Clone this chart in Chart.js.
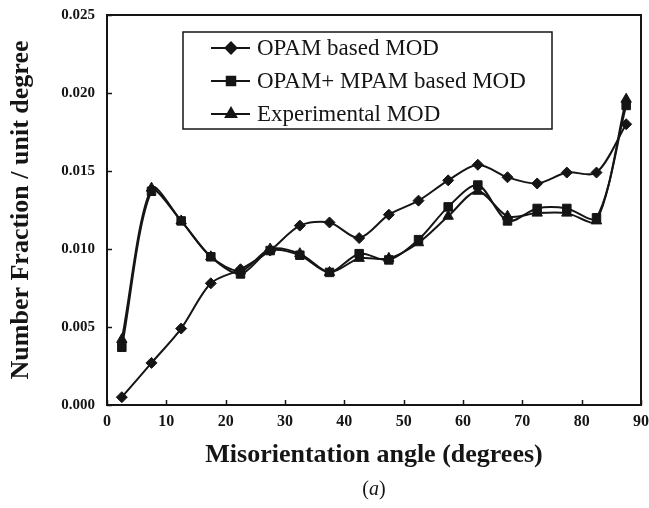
<!DOCTYPE html>
<html>
<head>
<meta charset="utf-8">
<script src="https://cdn.jsdelivr.net/npm/chart.js@4.4.0/dist/chart.umd.min.js"></script>
<style>
  html, body { margin: 0; padding: 0; background: #fff; }
  #wrap { width: 649px; height: 508px; }
</style>
</head>
<body>
<div id="wrap"><canvas id="mod-chart"></canvas></div>
<script>
// misorientation angle bins (degrees)
const angles = [2.5, 7.5, 12.5, 17.5, 22.5, 27.5, 32.5, 37.5, 42.5, 47.5, 52.5, 57.5, 62.5, 67.5, 72.5, 77.5, 82.5, 87.5];
const opam = [0.0005, 0.0027, 0.0049, 0.0078, 0.0087, 0.0099, 0.0115, 0.0117, 0.0107, 0.0122, 0.0131, 0.0144, 0.0154, 0.0146, 0.0142, 0.0149, 0.0149, 0.0180];
const opamMpam = [0.0037, 0.0137, 0.0118, 0.0095, 0.0084, 0.0099, 0.0096, 0.0085, 0.0097, 0.0093, 0.0106, 0.0127, 0.0141, 0.0118, 0.0126, 0.0126, 0.0120, 0.0192];
const experimental = [0.0042, 0.0139, 0.0118, 0.0095, 0.0086, 0.0100, 0.0097, 0.0085, 0.0094, 0.0094, 0.0104, 0.0121, 0.0137, 0.0121, 0.0123, 0.0123, 0.0118, 0.0196];
const seriesNames = ["OPAM based MOD", "OPAM+ MPAM based MOD", "Experimental MOD"];

const ink = "#151515";
const serif = "'Liberation Serif', 'DejaVu Serif', serif";

function toPoints(vals) {
   return vals.map((v, i) => ({x: angles[i], y: v}));
}

// frame, inward ticks, legend box and caption
const extras = {
   id: 'extras',
   afterDraw(chart) {
      const ctx = chart.ctx;
      const a = chart.chartArea;
      const xs = chart.scales.x, ys = chart.scales.y;
      ctx.save();
      ctx.strokeStyle = ink;
      ctx.lineWidth = 2;
      ctx.strokeRect(a.left, a.top, a.right - a.left, a.bottom - a.top);
      ctx.lineWidth = 1.5;
      xs.ticks.forEach(t => {
         const px = Math.round(xs.getPixelForValue(t.value)) + 0.5;
         ctx.beginPath(); ctx.moveTo(px, a.bottom); ctx.lineTo(px, a.bottom - 5); ctx.stroke();
      });
      ys.ticks.forEach(t => {
         const py = Math.round(ys.getPixelForValue(t.value)) + 0.5;
         ctx.beginPath(); ctx.moveTo(a.left, py); ctx.lineTo(a.left + 5, py); ctx.stroke();
      });

      // legend
      const bx = 183, by = 32, bw = 369, bh = 97;
      ctx.fillStyle = '#fff';
      ctx.fillRect(bx, by, bw, bh);
      ctx.lineWidth = 1.5;
      ctx.strokeRect(bx, by, bw, bh);
      const rows = [48, 81, 114];
      chart.data.datasets.forEach((ds, i) => {
         const y = rows[i];
         ctx.strokeStyle = ink;
         ctx.lineWidth = 2;
         ctx.beginPath(); ctx.moveTo(211, y); ctx.lineTo(250, y); ctx.stroke();
         ctx.fillStyle = ink;
         Chart.helpers.drawPoint(ctx, {pointStyle: ds.pointStyle, radius: ds.pointRadius, rotation: 0, borderWidth: 1}, 231, y);
         ctx.font = "23px " + serif;
         ctx.textBaseline = 'middle';
         ctx.textAlign = 'left';
         ctx.fillText(ds.label, 257, y + 1);
      });

      // caption (a)
      ctx.fillStyle = ink;
      ctx.textBaseline = 'middle';
      ctx.textAlign = 'left';
      ctx.font = "20px " + serif;
      const w1 = ctx.measureText('(').width;
      ctx.font = "italic 20px " + serif;
      const w2 = ctx.measureText('a').width;
      ctx.font = "20px " + serif;
      const w3 = ctx.measureText(')').width;
      let cx = 374 - (w1 + w2 + w3) / 2;
      ctx.fillText('(', cx, 490); cx += w1;
      ctx.font = "italic 20px " + serif;
      ctx.fillText('a', cx, 490); cx += w2;
      ctx.font = "20px " + serif;
      ctx.fillText(')', cx, 490);
      ctx.restore();
   }
};

function makeSet(label, vals, style, r) {
   return {
      label: label,
      data: toPoints(vals),
      borderColor: ink,
      backgroundColor: ink,
      borderWidth: 2,
      pointStyle: style,
      pointRadius: r,
      pointBorderWidth: 1,
      pointBorderColor: ink,
      pointBackgroundColor: ink,
      tension: 0.3
   };
}

new Chart(document.getElementById("mod-chart"), {
   type: 'line',
   data: {
      datasets: [
         makeSet(seriesNames[0], opam, 'rectRot', 5.5),
         makeSet(seriesNames[1], opamMpam, 'rect', 6),
         makeSet(seriesNames[2], experimental, 'triangle', 6)
      ]
   },
   options: {
      responsive: true,
      maintainAspectRatio: false,
      animation: false,
      layout: { padding: { left: 0, right: 8, top: 15, bottom: 0 } },
      plugins: {
         legend: { display: false },
         tooltip: { enabled: false }
      },
      scales: {
         x: {
            type: 'linear',
            min: 0, max: 90,
            ticks: { stepSize: 10, color: ink, padding: 7, maxRotation: 0,
               font: { family: serif, size: 16, weight: 'bold' } },
            grid: { display: false, drawTicks: false },
            border: { display: false },
            title: { display: true, text: 'Misorientation angle (degrees)', color: ink,
               font: { family: serif, size: 26, weight: 'bold' }, padding: { top: 0, bottom: 37 } },
            afterFit: s => { s.height = 103; s.paddingLeft = 0; s.paddingRight = 0; }
         },
         y: {
            min: 0, max: 0.025,
            ticks: { stepSize: 0.005, color: ink, padding: 12,
               callback: v => v.toFixed(3),
               font: { family: serif, size: 15, weight: 'bold' } },
            grid: { display: false, drawTicks: false },
            border: { display: false },
            title: { display: true, text: 'Number Fraction / unit degree', color: ink,
               font: { family: serif, size: 26, weight: 'bold' }, padding: { top: 6, bottom: 0 } },
            afterFit: s => { s.width = 107; s.paddingTop = 0; s.paddingBottom = 0; }
         }
      }
   },
   plugins: [extras]
});
</script>
</body>
</html>
